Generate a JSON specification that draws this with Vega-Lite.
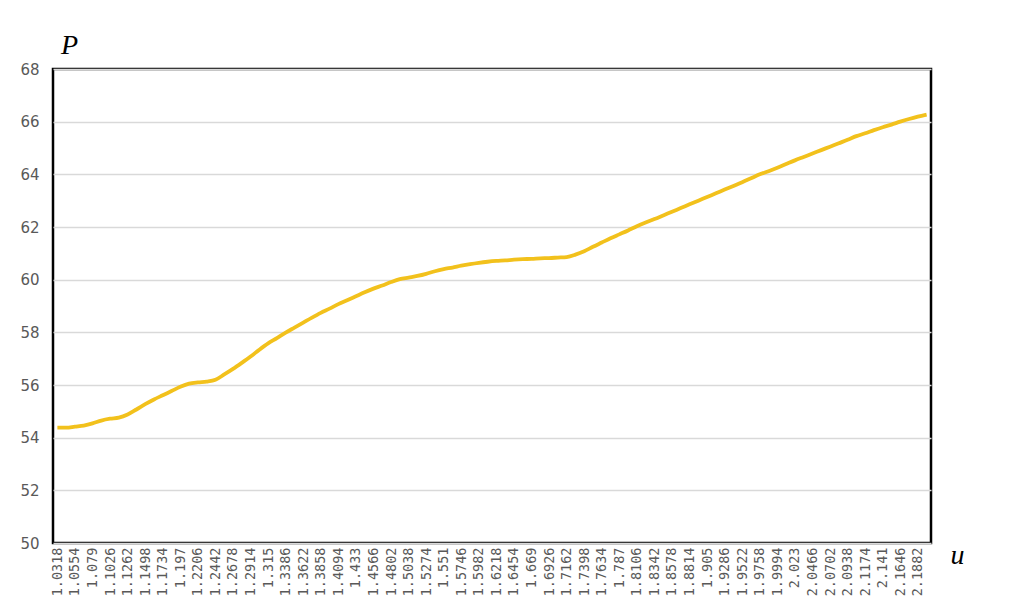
{
  "$schema": "https://vega.github.io/schema/vega-lite/v6.json",
  "width": 878,
  "height": 474,
  "autosize": {"type": "none"},
  "padding": {"left": 53, "top": 69, "right": 78, "bottom": 58},
  "background": "white",
  "config": {
    "view": {"stroke": "black", "strokeWidth": 2.5},
    "axis": {"labelColor": "#595959", "ticks": false, "domain": false}
  },
  "data": {"values": [
    {"u": 1.0318, "P": 54.38}, {"u": 1.0436, "P": 54.38}, {"u": 1.0554, "P": 54.42}, {"u": 1.0672, "P": 54.46},
    {"u": 1.079, "P": 54.54}, {"u": 1.0908, "P": 54.65}, {"u": 1.1026, "P": 54.72}, {"u": 1.1144, "P": 54.76},
    {"u": 1.1262, "P": 54.88}, {"u": 1.138, "P": 55.07}, {"u": 1.1498, "P": 55.27}, {"u": 1.1616, "P": 55.45},
    {"u": 1.1734, "P": 55.61}, {"u": 1.1852, "P": 55.77}, {"u": 1.197, "P": 55.93}, {"u": 1.2088, "P": 56.05},
    {"u": 1.2206, "P": 56.1}, {"u": 1.2324, "P": 56.13}, {"u": 1.2442, "P": 56.2}, {"u": 1.256, "P": 56.4},
    {"u": 1.2678, "P": 56.61}, {"u": 1.2796, "P": 56.84}, {"u": 1.2914, "P": 57.08}, {"u": 1.3032, "P": 57.34},
    {"u": 1.315, "P": 57.58}, {"u": 1.3268, "P": 57.78}, {"u": 1.3386, "P": 57.99}, {"u": 1.3504, "P": 58.18},
    {"u": 1.3622, "P": 58.37}, {"u": 1.374, "P": 58.56}, {"u": 1.3858, "P": 58.74}, {"u": 1.3976, "P": 58.9},
    {"u": 1.4094, "P": 59.07}, {"u": 1.4212, "P": 59.22}, {"u": 1.433, "P": 59.37}, {"u": 1.4448, "P": 59.52},
    {"u": 1.4566, "P": 59.66}, {"u": 1.4684, "P": 59.78}, {"u": 1.4802, "P": 59.91}, {"u": 1.492, "P": 60.02},
    {"u": 1.5038, "P": 60.08}, {"u": 1.5156, "P": 60.14}, {"u": 1.5274, "P": 60.22}, {"u": 1.5392, "P": 60.32},
    {"u": 1.551, "P": 60.4}, {"u": 1.5628, "P": 60.46}, {"u": 1.5746, "P": 60.53}, {"u": 1.5864, "P": 60.59},
    {"u": 1.5982, "P": 60.64}, {"u": 1.61, "P": 60.68}, {"u": 1.6218, "P": 60.71}, {"u": 1.6336, "P": 60.73},
    {"u": 1.6454, "P": 60.76}, {"u": 1.6572, "P": 60.78}, {"u": 1.669, "P": 60.79}, {"u": 1.6808, "P": 60.81},
    {"u": 1.6926, "P": 60.82}, {"u": 1.7044, "P": 60.84}, {"u": 1.7162, "P": 60.86}, {"u": 1.728, "P": 60.95},
    {"u": 1.7398, "P": 61.08}, {"u": 1.7516, "P": 61.25}, {"u": 1.7634, "P": 61.41}, {"u": 1.7752, "P": 61.57},
    {"u": 1.787, "P": 61.72}, {"u": 1.7988, "P": 61.87}, {"u": 1.8106, "P": 62.03}, {"u": 1.8224, "P": 62.17},
    {"u": 1.8342, "P": 62.3}, {"u": 1.846, "P": 62.44}, {"u": 1.8578, "P": 62.58}, {"u": 1.8696, "P": 62.72},
    {"u": 1.8814, "P": 62.86}, {"u": 1.8932, "P": 63.0}, {"u": 1.905, "P": 63.14}, {"u": 1.9168, "P": 63.28},
    {"u": 1.9286, "P": 63.42}, {"u": 1.9404, "P": 63.56}, {"u": 1.9522, "P": 63.7}, {"u": 1.964, "P": 63.85},
    {"u": 1.9758, "P": 64.0}, {"u": 1.9876, "P": 64.12}, {"u": 1.9994, "P": 64.25}, {"u": 2.0112, "P": 64.39},
    {"u": 2.023, "P": 64.53}, {"u": 2.0348, "P": 64.66}, {"u": 2.0466, "P": 64.79}, {"u": 2.0584, "P": 64.92},
    {"u": 2.0702, "P": 65.05}, {"u": 2.082, "P": 65.18}, {"u": 2.0938, "P": 65.31}, {"u": 2.1056, "P": 65.45},
    {"u": 2.1174, "P": 65.56}, {"u": 2.1292, "P": 65.68}, {"u": 2.141, "P": 65.79}, {"u": 2.1528, "P": 65.89},
    {"u": 2.1646, "P": 66.0}, {"u": 2.1764, "P": 66.1}, {"u": 2.1882, "P": 66.19}, {"u": 2.2, "P": 66.27}
  ]},
  "mark": {"type": "line", "color": "#F2C11C", "strokeWidth": 3.8, "interpolate": "monotone"},
  "encoding": {
    "x": {
      "field": "u",
      "type": "ordinal",
      "sort": "ascending",
      "scale": {"type": "point", "padding": 0.5},
      "axis": {
        "title": "u",
        "titleFont": "Liberation Serif",
        "titleFontStyle": "italic",
        "titleFontWeight": "normal",
        "titleFontSize": 28,
        "titleColor": "black",
        "titleAngle": 0,
        "titleAlign": "center",
        "titleBaseline": "alphabetic",
        "titleX": 904,
        "titleY": 20,
        "labelAngle": -90,
        "labelFont": "DejaVu Sans Mono",
        "labelFontSize": 13.5,
        "labelPadding": 4,
        "labelOverlap": false,
        "grid": false,
        "values": [1.0318, 1.0554, 1.079, 1.1026, 1.1262, 1.1498, 1.1734, 1.197, 1.2206, 1.2442, 1.2678, 1.2914, 1.315, 1.3386, 1.3622, 1.3858, 1.4094, 1.433, 1.4566, 1.4802, 1.5038, 1.5274, 1.551, 1.5746, 1.5982, 1.6218, 1.6454, 1.669, 1.6926, 1.7162, 1.7398, 1.7634, 1.787, 1.8106, 1.8342, 1.8578, 1.8814, 1.905, 1.9286, 1.9522, 1.9758, 1.9994, 2.023, 2.0466, 2.0702, 2.0938, 2.1174, 2.141, 2.1646, 2.1882]
      }
    },
    "y": {
      "field": "P",
      "type": "quantitative",
      "scale": {"domain": [50, 68], "nice": false, "zero": false},
      "axis": {
        "title": "P",
        "titleFont": "Liberation Serif",
        "titleFontStyle": "italic",
        "titleFontWeight": "normal",
        "titleFontSize": 28,
        "titleColor": "black",
        "titleAngle": 0,
        "titleAlign": "center",
        "titleBaseline": "alphabetic",
        "titleX": 16,
        "titleY": -16,
        "values": [50, 52, 54, 56, 58, 60, 62, 64, 66, 68],
        "labelFont": "DejaVu Sans",
        "labelFontSize": 15,
        "labelPadding": 14,
        "gridColor": "#D9D9D9",
        "gridWidth": 1.5
      }
    }
  }
}
